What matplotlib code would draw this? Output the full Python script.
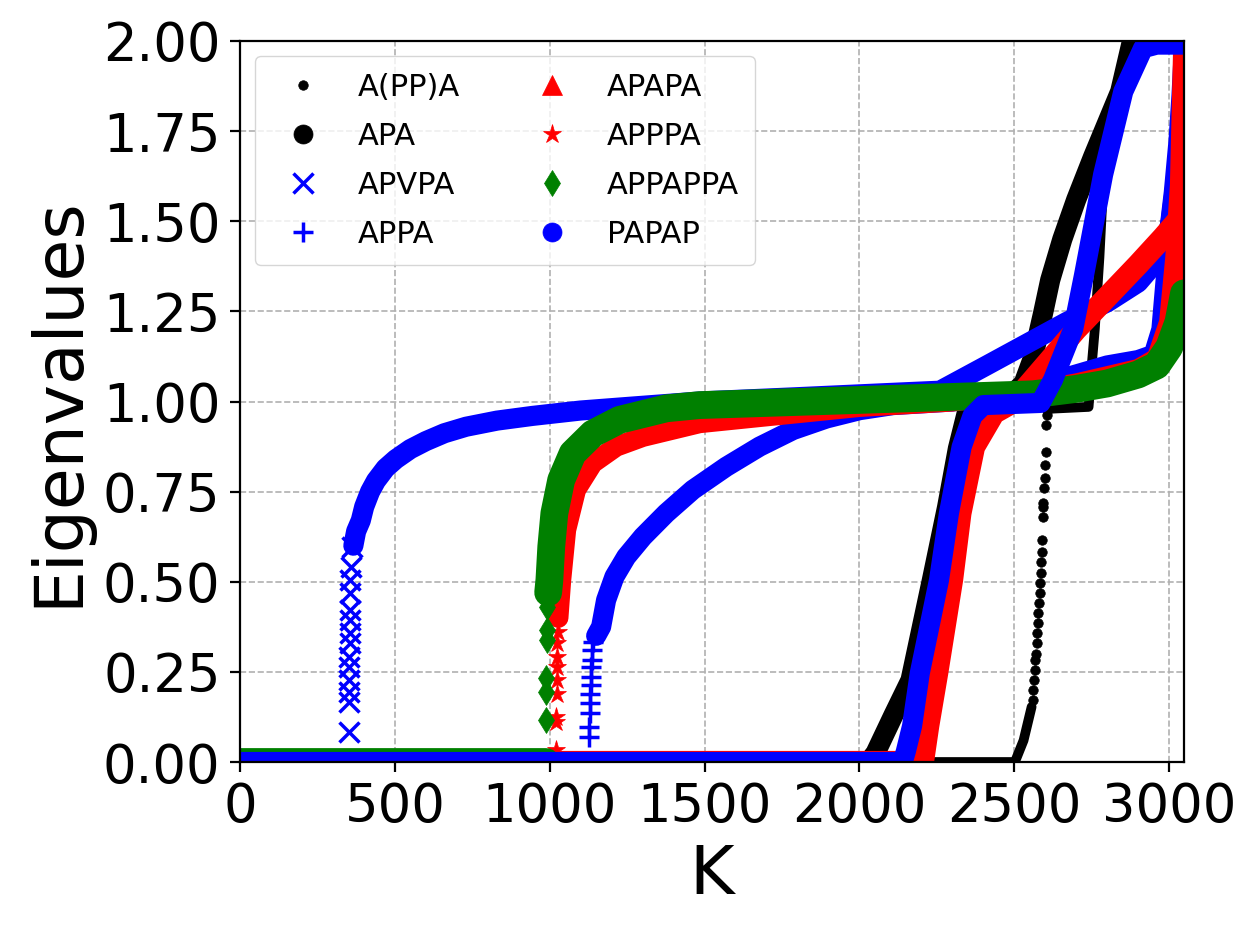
import numpy as np
import matplotlib
matplotlib.use("Agg")
import matplotlib.pyplot as plt
from matplotlib.lines import Line2D
from matplotlib.ticker import MultipleLocator, FormatStrFormatter

# sorted eigenvalues, K = eigenvalue index
k_max = 3048

# A(PP)A
k_a_pp_a = [0, 2502, 2530, 2556]
ev_a_pp_a = [0, 0, 0.06, 0.153]
k_a_pp_a_pts = [2560, 2562, 2564, 2566, 2568, 2570, 2572, 2574, 2576, 2578, 2580, 2582, 2583,
                2585, 2587, 2589, 2591, 2592, 2593, 2594, 2596, 2598, 2600, 2602, 2604, 2605]
ev_a_pp_a_pts = [0.172, 0.2, 0.227, 0.255, 0.283, 0.30, 0.329, 0.357, 0.385, 0.412, 0.44, 0.468, 0.496,
                 0.523, 0.556, 0.583, 0.616, 0.68, 0.708, 0.718, 0.759, 0.787, 0.824, 0.861, 0.935, 0.963]
k_a_pp_a_top = [2606, 2620, 2740, 2750, 2760, 2775, 2790, 2830, 2880]
ev_a_pp_a_top = [0.975, 0.98, 0.985, 1.1, 1.2, 1.4, 1.65, 1.85, 2.05]

# APA
k_apa = [0, 2030, 2052, 2110, 2165, 2234, 2283, 2318, 2347, 2400, 2480, 2530, 2560, 2593,
         2616, 2655, 2700, 2755, 2842, 2880, 2900]
ev_apa = [0, 0, 0.025, 0.13, 0.227, 0.505, 0.707, 0.87, 0.97, 0.99, 1.01, 1.05, 1.12, 1.245,
          1.337, 1.45, 1.56, 1.68, 1.86, 2.0, 2.05]

# APVPA
k_apvpa = [0, 350]
ev_apvpa = [0, 0]
k_apvpa_pts = [352, 352, 352, 352, 353, 353, 354, 354, 354, 355, 355, 356, 358, 361]
ev_apvpa_pts = [0.084, 0.167, 0.195, 0.227, 0.264, 0.292, 0.329, 0.357, 0.394, 0.422, 0.468, 0.505, 0.542, 0.597]
k_apvpa_top = [366, 375, 390, 401, 420, 439, 470, 503, 550, 600, 660, 730, 830, 944, 1100, 1267, 1484,
               1800, 2131, 2260, 2411, 2670, 2800, 2900, 2960, 2990, 3005, 3020, 3035, 3045]
ev_apvpa_top = [0.60, 0.64, 0.67, 0.708, 0.75, 0.78, 0.815, 0.84, 0.868, 0.89, 0.912, 0.93, 0.947, 0.96,
                0.975, 0.986, 1.0, 1.012, 1.025, 1.03, 1.1, 1.221, 1.275, 1.33, 1.39, 1.44, 1.5, 1.6,
                1.72, 1.85]

# APPA
k_appa = [0, 1128]
ev_appa = [0, 0]
k_appa_pts = [1128, 1128, 1129, 1130, 1131, 1132, 1133, 1134, 1136, 1138, 1140]
ev_appa_pts = [0.07, 0.098, 0.135, 0.163, 0.19, 0.214, 0.237, 0.264, 0.283, 0.31, 0.334]
k_appa_top = [1150, 1166, 1182, 1209, 1247, 1301, 1376, 1462, 1570, 1678, 1786, 1894, 2001, 2108,
              2300, 2500, 2700, 2800, 2900, 2950, 2975, 2990, 3000, 3015, 3030, 3040, 3046]
ev_appa_top = [0.35, 0.375, 0.449, 0.514, 0.569, 0.625, 0.69, 0.755, 0.819, 0.875, 0.921, 0.953, 0.976, 0.99,
               1.0, 1.025, 1.075, 1.1, 1.115, 1.13, 1.2, 1.35, 1.47, 1.58, 1.72, 1.85, 1.95]

# APAPA
k_apapa = [0, 2205, 2222, 2251, 2299, 2326, 2370, 2434, 2500, 2560, 2620, 2700, 2800, 2900, 2980, 3046]
ev_apapa = [0, 0, 0.1, 0.247, 0.505, 0.69, 0.874, 0.968, 1.0, 1.06, 1.12, 1.2, 1.29, 1.38, 1.455, 1.52]

# APPPA
k_apppa = [0, 1018]
ev_apppa = [0, 0]
k_apppa_pts = [1020, 1021, 1021, 1022, 1023, 1023, 1024, 1025, 1026]
ev_apppa_pts = [0.033, 0.112, 0.126, 0.19, 0.227, 0.264, 0.292, 0.329, 0.36]
k_apppa_top = [1028, 1037, 1053, 1085, 1139, 1215, 1301, 1484, 1678, 2000, 2300, 2500, 2700, 2800,
               2900, 2960, 3000, 3020, 3035, 3045]
ev_apppa_top = [0.40, 0.505, 0.644, 0.755, 0.829, 0.875, 0.902, 0.94, 0.957, 0.985, 1.0, 1.02, 1.05, 1.07,
                1.09, 1.12, 1.22, 1.4, 1.6, 1.97]

# APPAPPA
k_appappa = [0, 988]
ev_appappa = [0, 0]
k_appappa_pts = [988, 988, 989, 990, 991, 992]
ev_appappa_pts = [0.117, 0.195, 0.232, 0.338, 0.366, 0.431]
k_appappa_top = [995, 999, 1005, 1015, 1037, 1074, 1139, 1225, 1376, 1484, 2023, 2561, 2700, 2800,
                 2900, 2960, 3000, 3030, 3048]
ev_appappa_top = [0.47, 0.505, 0.597, 0.69, 0.782, 0.856, 0.911, 0.949, 0.981, 0.99, 1.005, 1.02, 1.035, 1.05,
                  1.075, 1.1, 1.15, 1.22, 1.3]

# PAPAP
k_papap = [0, 2140, 2150, 2170, 2195, 2257, 2289, 2330, 2365, 2400, 2585, 2625, 2690, 2725, 2787,
           2852, 2916, 2960, 3048]
ev_papap = [0, 0, 0.03, 0.1, 0.247, 0.505, 0.69, 0.874, 0.96, 0.99, 0.996, 1.06, 1.2, 1.35, 1.63,
            1.86, 1.98, 1.99, 1.99]


MS = 13.7  # marker size (pt)

fig = plt.figure(figsize=(12.58, 9.36), dpi=100)
ax = fig.add_axes([240 / 1258, 174 / 936, 944 / 1258, 721 / 936])


def draw(k, ev, color, marker, width, mew=0.5, k_pts=None, ev_pts=None, k_top=None, ev_top=None):
    # dense runs of markers -> thick band, isolated eigenvalues -> single markers
    band = dict(color=color, solid_capstyle='round', solid_joinstyle='round')
    ax.plot(k, ev, lw=width, **band)
    if k_pts is not None:
        ax.plot(k_pts, ev_pts, ls='none', color=color, marker=marker, ms=MS, mew=mew, mec=color)
    if k_top is not None:
        ax.plot(k_top, ev_top, lw=width, **band)


draw(k_a_pp_a, ev_a_pp_a, 'k', '.', 7, k_pts=k_a_pp_a_pts, ev_pts=ev_a_pp_a_pts,
     k_top=k_a_pp_a_top, ev_top=ev_a_pp_a_top)
draw(k_apa, ev_apa, 'k', 'o', 14.5)
draw(k_apvpa, ev_apvpa, 'b', 'x', 14.5, mew=2.5, k_pts=k_apvpa_pts, ev_pts=ev_apvpa_pts,
     k_top=k_apvpa_top, ev_top=ev_apvpa_top)
draw(k_appa, ev_appa, 'b', '+', 14.5, mew=2.5, k_pts=k_appa_pts, ev_pts=ev_appa_pts,
     k_top=k_appa_top, ev_top=ev_appa_top)
draw(k_apapa, ev_apapa, 'r', '^', 16)
draw(k_apppa, ev_apppa, 'r', '*', 14.5, k_pts=k_apppa_pts, ev_pts=ev_apppa_pts,
     k_top=k_apppa_top, ev_top=ev_apppa_top)
draw(k_appappa, ev_appappa, 'g', 'd', 20, k_pts=k_appappa_pts, ev_pts=ev_appappa_pts,
     k_top=k_appappa_top, ev_top=ev_appappa_top)
draw(k_papap, ev_papap, 'b', 'o', 14.5)

labels = ['A(PP)A', 'APA', 'APVPA', 'APPA', 'APAPA', 'APPPA', 'APPAPPA', 'PAPAP']
markers = ['.', 'o', 'x', '+', '^', '*', 'd', 'o']
colors = ['k', 'k', 'b', 'b', 'r', 'r', 'g', 'b']
handles = [Line2D([], [], ls='none', marker=m, color=c, mec=c, ms=MS,
                  mew=2.5 if m in 'x+' else 0.5) for m, c in zip(markers, colors)]
ax.legend(handles, labels, loc='upper left', ncol=2, fontsize=22,
          labelspacing=0.65, borderpad=0.55)

ax.set_xlim(0, k_max)
ax.set_ylim(0, 2)
ax.xaxis.set_major_locator(MultipleLocator(500))
ax.yaxis.set_major_locator(MultipleLocator(0.25))
ax.yaxis.set_major_formatter(FormatStrFormatter('%.2f'))
ax.set_axisbelow(True)
ax.grid(True, linestyle='--', color='#b0b0b0', linewidth=1.2)
ax.tick_params(labelsize=38, length=7, width=1.6, pad=7)
for s in ax.spines.values():
    s.set_linewidth(1.6)
ax.set_xlabel('K', fontsize=49, labelpad=6)
ax.set_ylabel('Eigenvalues', fontsize=49, labelpad=8)

fig.savefig('out.png', dpi=100)
